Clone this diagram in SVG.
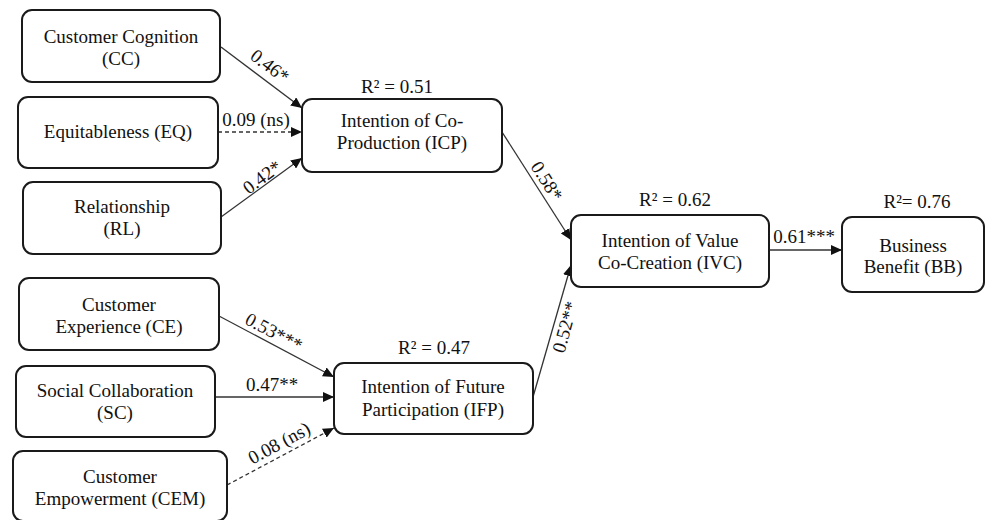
<svg xmlns="http://www.w3.org/2000/svg" width="986" height="520" viewBox="0 0 986 520">
<style>
  .box { fill: #ffffff; stroke: #1a1a1a; stroke-width: 2; }
  text { font-family: 'Liberation Serif', Tinos, 'DejaVu Serif', serif; font-size: 19px; fill: #111; text-anchor: middle; }
  .lbl { dominant-baseline: central; }
  .c { stroke: #333; stroke-width: 1.3; fill: none; marker-end: url(#arr); }
  .d { stroke-dasharray: 4 3; }
</style>
<defs>
  <marker id="arr" markerUnits="userSpaceOnUse" markerWidth="11" markerHeight="10" refX="11" refY="5" orient="auto">
    <path d="M0,0 L11,5 L0,10 z" fill="#111"/>
  </marker>
</defs>
<rect width="986" height="520" fill="#ffffff"/>

<g font-family="Liberation Serif, serif">
<g id="connectors">
  <path class="c" d="M221,47 L302,108"/>
  <path class="c d" d="M218,132 L302,132"/>
  <path class="c" d="M221,217 L302,158"/>
  <path class="c" d="M219,316 L334,377"/>
  <path class="c" d="M215,397 L334,397"/>
  <path class="c d" d="M227,485 L334,428"/>
  <path class="c" d="M502,132 L571,240"/>
  <path class="c" d="M533,397 L571,265"/>
  <path class="c" d="M769,250 L842,250"/>
  <text class="lbl" transform="translate(270,66) rotate(37.3)">0.46*</text>
  <text class="lbl" x="256" y="119">0.09 (ns)</text>
  <text class="lbl" transform="translate(262,177) rotate(-36.4)">0.42*</text>
  <text class="lbl" transform="translate(274,332) rotate(28.2)">0.53***</text>
  <text class="lbl" x="272" y="384">0.47**</text>
  <text class="lbl" transform="translate(279,443) rotate(-28.5)">0.08 (ns)</text>
  <text class="lbl" transform="translate(547,181) rotate(57.8)">0.58*</text>
  <text class="lbl" transform="translate(565,327) rotate(-74.3)">0.52**</text>
  <text class="lbl" x="804" y="236">0.61***</text>
</g>

<g id="CC">
  <rect class="box" x="22" y="10" width="198" height="72" rx="10"/>
  <text x="121" y="43">Customer Cognition</text>
  <text x="121" y="65">(CC)</text>
</g>
<g id="EQ">
  <rect class="box" x="18" y="97" width="200" height="71" rx="10"/>
  <text x="118" y="138">Equitableness (EQ)</text>
</g>
<g id="RL">
  <rect class="box" x="23" y="182" width="198" height="72" rx="10"/>
  <text x="122" y="213">Relationship</text>
  <text x="122" y="235">(RL)</text>
</g>
<g id="ICP">
  <text x="397" y="93">R² = 0.51</text>
  <rect class="box" x="302" y="99" width="200" height="73" rx="10"/>
  <text x="402" y="127">Intention of Co-</text>
  <text x="402" y="149">Production (ICP)</text>
</g>
<g id="CE">
  <rect class="box" x="19" y="278" width="200" height="72" rx="10"/>
  <text x="119" y="311">Customer</text>
  <text x="119" y="333">Experience (CE)</text>
</g>
<g id="SC">
  <rect class="box" x="16" y="366" width="199" height="71" rx="10"/>
  <text x="115" y="397">Social Collaboration</text>
  <text x="115" y="419">(SC)</text>
</g>
<g id="CEM">
  <rect class="box" x="13" y="451" width="214" height="70" rx="10"/>
  <text x="120" y="483">Customer</text>
  <text x="120" y="505">Empowerment (CEM)</text>
</g>
<g id="IFP">
  <text x="434" y="354">R² = 0.47</text>
  <rect class="box" x="334" y="363" width="199" height="71" rx="10"/>
  <text x="433" y="393">Intention of Future</text>
  <text x="433" y="416">Participation (IFP)</text>
</g>
<g id="IVC">
  <text x="675" y="206">R² = 0.62</text>
  <rect class="box" x="571" y="215" width="198" height="72" rx="10"/>
  <text x="670" y="247">Intention of Value</text>
  <text x="670" y="269">Co-Creation (IVC)</text>
</g>
<g id="BB">
  <text x="917" y="208">R²= 0.76</text>
  <rect class="box" x="842" y="217" width="142" height="75" rx="10"/>
  <text x="913" y="252">Business</text>
  <text x="913" y="273">Benefit (BB)</text>
</g>
</g>
</svg>
